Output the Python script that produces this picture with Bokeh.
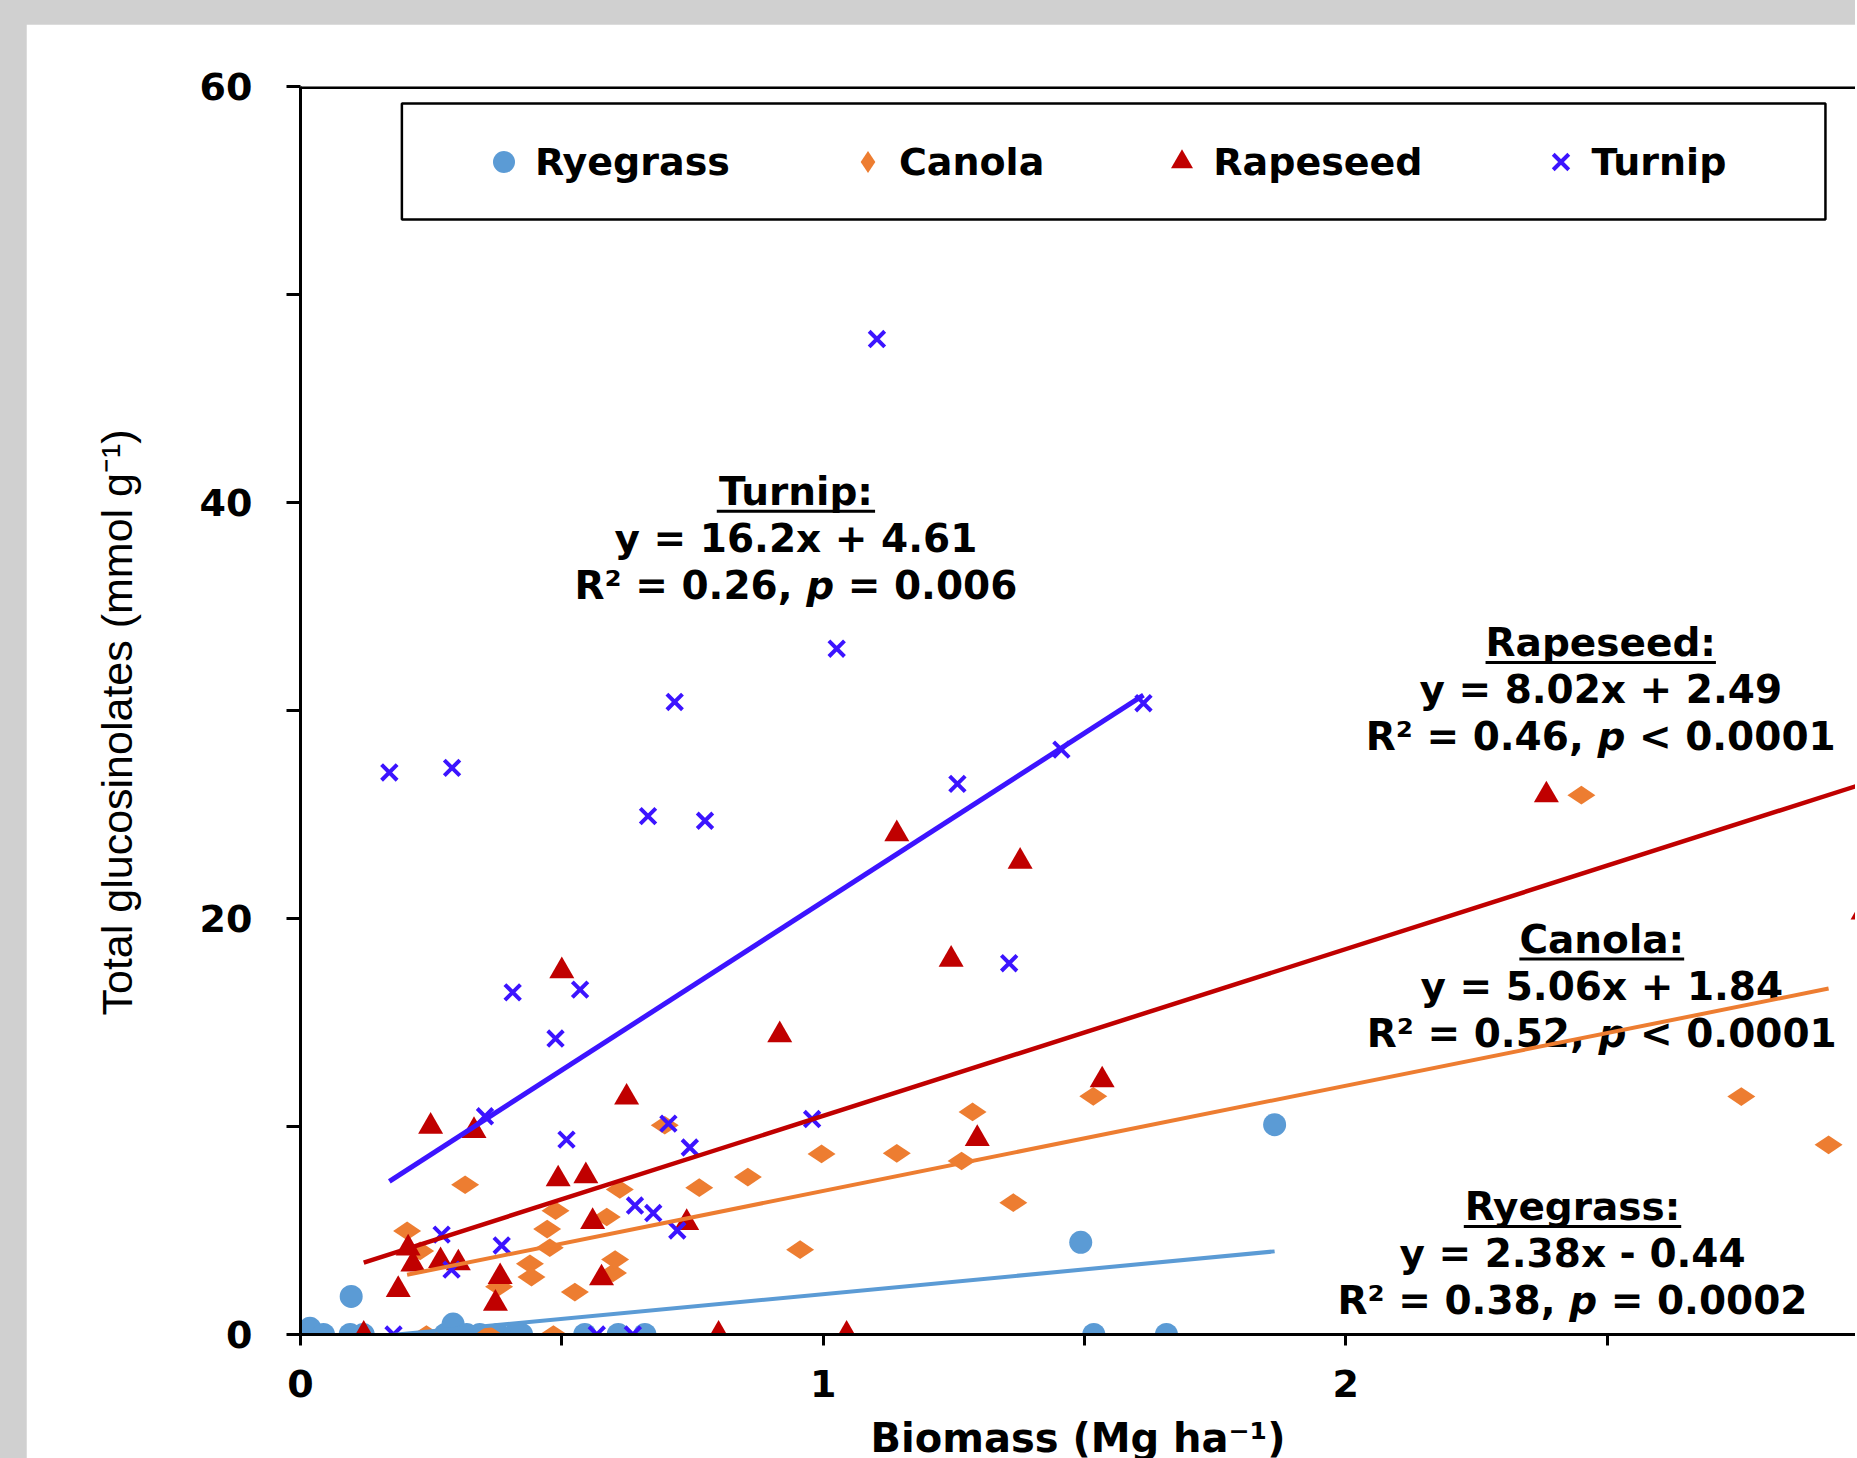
import numpy as np
from bokeh.plotting import figure
from bokeh.models import (Label, Legend, LegendItem, FixedTicker, Span,
                          BoxAnnotation, Range1d)
from bokeh.layouts import column
from bokeh.embed import file_html
from bokeh.resources import INLINE

# ---------------- data ----------------
species = ["Ryegrass", "Canola", "Rapeseed", "Turnip"]

ryegrass_x = [0.018, 0.044, 0.095, 0.097, 0.120, 0.277, 0.292, 0.318, 0.343, 0.378,
              0.410, 0.423, 0.544, 0.608, 0.659, 1.493, 1.518, 1.657, 1.864]
ryegrass_y = [0.3, 0.0, 0.0, 1.83, 0.0, 0.0, 0.5, 0.0, 0.0, 0.0,
              0.0, 0.0, 0.0, 0.0, 0.0, 4.43, 0.0, 0.0, 10.09]

canola_x = [0.204, 0.229, 0.241, 0.315, 0.360, 0.380, 0.439, 0.442, 0.472, 0.477,
            0.484, 0.488, 0.525, 0.586, 0.598, 0.602, 0.611, 0.697, 0.763, 0.856,
            0.956, 0.997, 1.141, 1.265, 1.286, 1.364, 1.517, 2.451, 2.757, 2.924]
canola_y = [4.98, 4.02, 0.0, 7.20, 0.0, 2.30, 3.40, 2.76, 5.07, 4.17,
            0.0, 5.95, 2.04, 5.65, 2.96, 3.60, 6.97, 10.06, 7.06, 7.57,
            4.08, 8.68, 8.71, 8.34, 10.70, 6.34, 11.45, 25.93, 11.44, 9.12]

rapeseed_x = [0.121, 0.187, 0.206, 0.215, 0.249, 0.268, 0.302, 0.332, 0.373, 0.382,
              0.493, 0.500, 0.546, 0.559, 0.576, 0.624, 0.739, 0.800, 0.917, 1.045,
              1.141, 1.245, 1.295, 1.377, 1.534, 2.384, 2.990]
rapeseed_y = [0.0, 2.15, 4.15, 3.38, 10.0, 3.54, 3.43, 9.8, 1.49, 2.77,
              7.47, 17.48, 7.62, 5.42, 2.71, 11.4, 5.37, 0.0, 14.4, 0.0,
              24.06, 18.03, 9.41, 22.74, 12.23, 25.93, 20.3]

turnip_x = [0.170, 0.178, 0.270, 0.289, 0.290, 0.353, 0.385, 0.406, 0.488, 0.509,
            0.535, 0.567, 0.636, 0.640, 0.665, 0.675, 0.704, 0.716, 0.721, 0.745,
            0.774, 0.979, 1.026, 1.103, 1.257, 1.356, 1.456, 1.613]
turnip_y = [27.02, 0.0, 4.80, 3.12, 27.24, 10.49, 4.28, 16.45, 14.23, 9.37,
            16.58, 0.0, 0.0, 6.20, 24.92, 5.84, 10.14, 30.41, 5.00, 8.99,
            24.70, 10.36, 32.97, 47.86, 26.47, 17.85, 28.12, 30.35]

slopes = [2.38, 5.06, 8.02, 16.2]
intercepts = [-0.44, 1.84, 2.49, 4.61]
equations = ["y = 2.38x - 0.44", "y = 5.06x + 1.84", "y = 8.02x + 2.49", "y = 16.2x + 4.61"]
r2_values = ["0.38", "0.52", "0.46", "0.26"]
p_relations = ["=", "<", "<", "="]
p_values = ["0.0002", "0.0001", "0.0001", "0.006"]

x_ticks = [0, 0.5, 1, 1.5, 2, 2.5, 3]
x_tick_labels = ["0", "", "1", "", "2", "", "3"]
y_ticks = [0, 10, 20, 30, 40, 50, 60]
y_tick_labels = ["0", "", "20", "", "40", "", "60"]

x_title = "Biomass (Mg ha\u207b\u00b9)"
y_title = "Total glucosinolates (mmol g\u207b\u00b9)"

# ---------------- layout / style ----------------
W, H = 1829, 1452           # lower 18 px are hidden below the window edge
HIDDEN = 18
BL, BT, BB = 274, 62, 142
FW = W - BL
FH = H - BT - BB
PXX = 522.6                 # px per x unit
X_END = FW / PXX
PXY = FH / 60.0             # px per y unit
TXT_SHIFT = 14 / PXY        # compensates the label baseline placement

colors = ["#5B9BD5", "#ED7D31", "#C00000", "#3C14FF"]
FONT = "DejaVu Sans"
ANN = 39

p = figure(width=W, height=H, x_range=Range1d(0, X_END), y_range=Range1d(0, 60),
           output_backend="svg", toolbar_location=None,
           min_border_left=BL, min_border_right=0, min_border_top=BT,
           min_border_bottom=BB, background_fill_color="white",
           border_fill_color="white", outline_line_color=None,
           styles={"margin-bottom": f"-{HIDDEN}px"})
p.grid.visible = False

xa = p.xaxis[0]
ya = p.yaxis[0]
xa.ticker = FixedTicker(ticks=x_ticks)
xa.major_label_overrides = {t: l for t, l in zip(x_ticks, x_tick_labels)}
ya.ticker = FixedTicker(ticks=y_ticks)
ya.major_label_overrides = {t: l for t, l in zip(y_ticks, y_tick_labels)}
for ax in (xa, ya):
    ax.axis_line_width = 3
    ax.axis_line_color = "black"
    ax.major_tick_line_width = 3
    ax.major_tick_line_color = "black"
    ax.major_tick_in = 0
    ax.minor_tick_line_color = None
    ax.major_label_text_font = FONT
    ax.major_label_text_font_style = "bold"
    ax.major_label_text_font_size = "38px"
    ax.major_label_text_color = "black"
    ax.axis_label_text_color = "black"
xa.major_tick_out = 11
xa.major_label_standoff = 24
xa.axis_label = x_title
xa.axis_label_text_font = FONT
xa.axis_label_text_font_style = "bold"
xa.axis_label_text_font_size = "40px"
xa.axis_label_standoff = 15

ya.major_tick_out = 14
ya.major_label_standoff = 34
ya.axis_label = y_title + "\u00a0\u00a0"
ya.axis_label_text_font = "Liberation Sans"
ya.axis_label_text_font_style = "normal"
ya.axis_label_text_font_size = "43px"
ya.axis_label_standoff = 56

p.add_layout(Span(location=y_ticks[-1], dimension="width", line_color="black", line_width=5))

# legend frame
p.add_layout(BoxAnnotation(left=0.194, right=2.918, bottom=53.61, top=59.18,
                           fill_color=None, fill_alpha=0, line_color="black",
                           line_alpha=1, line_width=2.5))

# ---------------- annotations ----------------
CW = {' ': 0.348, '0': 0.696, '1': 0.696, '2': 0.696, '3': 0.696, '4': 0.696,
      '5': 0.696, '6': 0.696, '7': 0.696, '8': 0.696, '9': 0.696, '.': 0.381,
      ',': 0.381, ':': 0.400, '=': 0.838, '<': 0.838, '+': 0.838, '-': 0.416,
      'R': 0.771, 'T': 0.683, 'C': 0.734, '\u00b2': 0.438, 'a': 0.675, 'd': 0.716,
      'e': 0.678, 'g': 0.716, 'i': 0.343, 'l': 0.343, 'n': 0.712, 'o': 0.687,
      'p': 0.716, 'r': 0.493, 's': 0.595, 'u': 0.712, 'x': 0.712, 'y': 0.652}


def tw(s, size=ANN):
    return sum(CW.get(c, 0.65) for c in s) * size


ann_pos = {"Ryegrass": (2.434, 5.48), "Canola": (2.490, 18.34),
           "Rapeseed": (2.488, 32.60), "Turnip": (0.948, 39.87)}
STEP = 2.26


def lab(x, y, text, align="center", xoff=0, style="bold"):
    p.add_layout(Label(x=x, y=y + TXT_SHIFT, text=text, text_align=align, x_offset=xoff,
                       text_baseline="alphabetic", text_font=FONT,
                       text_font_style=style, text_font_size=f"{ANN}px",
                       text_color="black", level="underlay"))


for i, name in enumerate(species):
    cx, by = ann_pos[name]
    head = name + ":"
    lab(cx, by, head)
    hw = tw(head) / 2 / PXX
    p.segment(x0=[cx - hw], y0=[by - 6 / PXY], x1=[cx + hw], y1=[by - 6 / PXY],
              line_color="black", line_width=3)
    lab(cx, by - STEP, equations[i])
    a = "R\u00b2 = " + r2_values[i] + ","
    c = p_relations[i] + " " + p_values[i]
    sp = tw(" ")
    total = tw(a) + sp + tw("p") + sp + tw(c)
    start = -total / 2
    y3 = by - 2 * STEP
    lab(cx, y3, a, "left", start)
    lab(cx, y3, "p", "left", start + tw(a) + sp, "bold italic")
    lab(cx, y3, c, "left", start + tw(a) + sp + tw("p") + sp)

# ---------------- data marks ----------------
xs_all = [ryegrass_x, canola_x, rapeseed_x, turnip_x]

r_rye = p.scatter(ryegrass_x, ryegrass_y, marker="circle", size=23,
                  fill_color=colors[0], line_color=None)
r_can = p.scatter(canola_x, canola_y, marker="diamond", size=28, angle=np.pi / 2,
                  fill_color=colors[1], line_color=None)
r_rap = p.scatter(rapeseed_x, rapeseed_y, marker="triangle", size=25,
                  fill_color=colors[2], line_color=None)
r_tur = p.scatter(turnip_x, turnip_y, marker="x", size=22,
                  line_color=colors[3], line_width=4)
renderers = [r_rye, r_can, r_rap, r_tur]

line_widths = [4, 4, 4.5, 5]
for xs, sl, ic, col, lw in zip(xs_all, slopes, intercepts, colors, line_widths):
    x0, x1 = min(xs), max(xs)
    p.line([x0, x1], [sl * x0 + ic, sl * x1 + ic], line_color=col, line_width=lw)

legend = Legend(items=[LegendItem(label=n, renderers=[r]) for n, r in zip(species, renderers)],
                orientation="horizontal", location=(176, 1145),
                glyph_width=55, glyph_height=55, label_standoff=4, spacing=110,
                padding=0, margin=0, border_line_color=None, background_fill_alpha=0,
                label_text_font=FONT, label_text_font_style="bold",
                label_text_font_size="38px", label_text_color="black")
p.add_layout(legend)

root = column(p, styles={"background-color": "#d0d0d0", "margin": "-8px 0px 0px -8px",
                         "padding": "32px 0px 0px 34px", "overflow": "hidden"})

open("out.html", "w").write(file_html(root, INLINE))
